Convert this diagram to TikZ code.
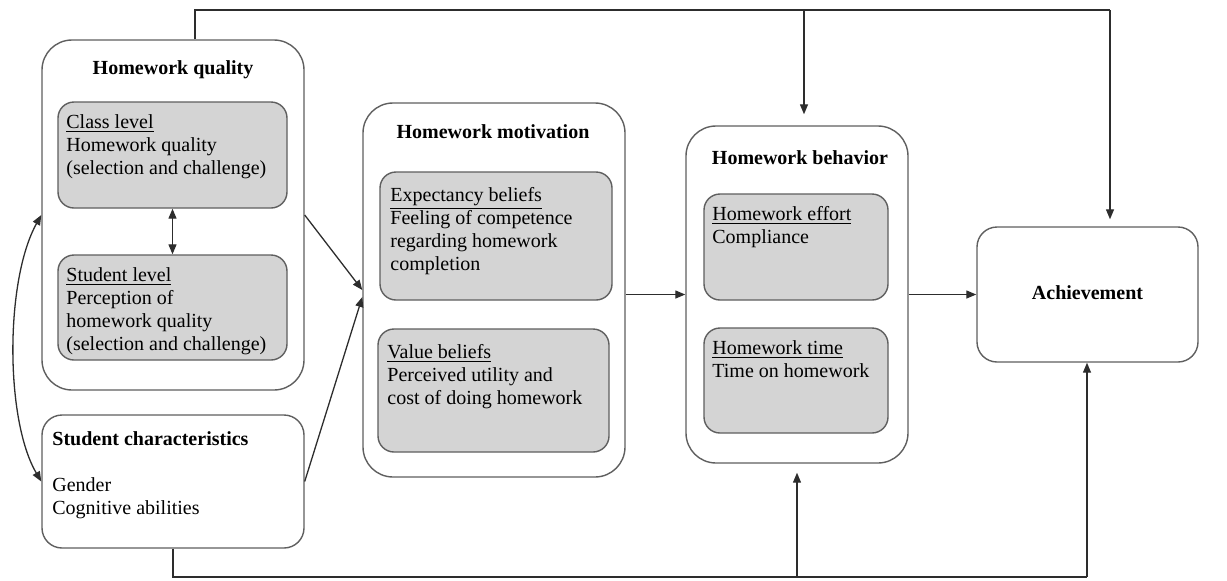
\documentclass[tikz,border=0pt]{standalone}
\usepackage{fontspec}
\setmainfont{Liberation Serif}
\usetikzlibrary{arrows.meta}
\definecolor{boxgray}{RGB}{212,212,212}
\definecolor{edgegray}{RGB}{95,95,95}
\definecolor{linecol}{RGB}{45,45,45}
\begin{document}
\begin{tikzpicture}[x=0.5pt,y=-0.5pt,
  outerbox/.style={draw=edgegray, line width=0.7pt, rounded corners=15pt, fill=white, inner sep=0pt},
  smallouter/.style={draw=edgegray, line width=0.7pt, rounded corners=10pt, fill=white, inner sep=0pt},
  graybox/.style={draw=edgegray, line width=0.7pt, rounded corners=8pt, fill=boxgray, inner sep=0pt},
  title/.style={font=\fontsize{10pt}{11.5pt}\selectfont\bfseries, inner sep=0pt, anchor=base},
  body/.style={font=\fontsize{10pt}{11.5pt}\selectfont, inner sep=0pt, anchor=north west, align=left},
  conn/.style={draw=linecol, line width=0.65pt, -{Triangle[length=5pt,width=4pt]}},
  plain/.style={draw=linecol, line width=0.65pt},
  dconn/.style={draw=linecol, line width=0.65pt, {Triangle[length=5pt,width=4pt]}-{Triangle[length=5pt,width=4pt]}}
]
\useasboundingbox (0,0) rectangle (1227,580);

% Homework quality
\node[outerbox, minimum width=131pt, minimum height=175pt] (HQ) at (173,215) {};
\node[title] (HQt) at (173,74) {Homework quality};
\node[graybox, minimum width=114.5pt, minimum height=53pt] (CL) at (172.5,155) {};
\node[body] (CLt) at (66,112) {\strut\underline{Class level}\\Homework quality\\(selection and challenge)};
\node[graybox, minimum width=114.5pt, minimum height=52.5pt] (SL) at (172.5,307.5) {};
\node[body] (SLt) at (66,265) {\strut\underline{Student level}\\Perception of\\homework quality\\(selection and challenge)};

% Student characteristics
\node[smallouter, minimum width=131pt, minimum height=66.5pt] (SC) at (173,481.5) {};
\node[body] (SCt) at (52,429) {\strut\textbf{Student characteristics}\\[11.5pt]Gender\\Cognitive abilities};

% Homework motivation
\node[outerbox, minimum width=131pt, minimum height=187pt] (HM) at (494,290) {};
\node[title] (HMt) at (493,138) {Homework motivation};
\node[graybox, minimum width=116pt, minimum height=64pt] (EX) at (496,236) {};
\node[body] (EXt) at (390,185) {\strut\underline{Expectancy beliefs}\\Feeling of competence\\regarding homework\\completion};
\node[graybox, minimum width=115.5pt, minimum height=61.5pt] (VB) at (493.5,390.5) {};
\node[body] (VBt) at (387,342) {\strut\underline{Value beliefs}\\Perceived utility and\\cost of doing homework};

% Homework behavior
\node[outerbox, minimum width=111pt, minimum height=168.5pt] (HB) at (797,294.5) {};
\node[title] (HBt) at (800,164) {Homework behavior};
\node[graybox, minimum width=92pt, minimum height=53pt] (EF) at (796,247) {};
\node[body] (EFt) at (712,204) {\strut\underline{Homework effort}\\Compliance};
\node[graybox, minimum width=92pt, minimum height=52.5pt] (TI) at (796,380.5) {};
\node[body] (TIt) at (712,338) {\strut\underline{Homework time}\\Time on homework};

% Achievement
\node[smallouter, minimum width=110.5pt, minimum height=67.5pt] (ACH) at (1087.5,294.5) {};
\node[title] (ACHt) at (1087.5,299) {Achievement};

% connectors
\draw[dconn] (CL.south) -- (SL.north);
\draw[dconn] (HQ.west) .. controls (5,280) and (5,420) .. (SC.west);
\draw[conn] (HQ.east) -- (HM.west);
\draw[conn] (SC.east) -- ([yshift=-3.5pt]HM.west);
\draw[conn] (HM.east |- HB.west) -- (HB.west);
\draw[conn] (HB.east) -- (ACH.west);

\coordinate (topR) at (1110,10);
\coordinate (topB) at (804,10);
\draw[plain] ([xshift=11pt]HQ.north) |- (topR);
\draw[conn, shorten >=3.5pt] (topR) -- (topR |- ACH.north);
\draw[conn, shorten >=5.5pt] (topB) -- (topB |- HB.north);

\coordinate (botR) at (1087,577);
\coordinate (botB) at (797,577);
\draw[plain] (SC.south) |- (botR);
\draw[conn] (botR) -- (botR |- ACH.south);
\draw[conn, shorten >=4.5pt] (botB) -- (HB.south);
\end{tikzpicture}
\end{document}
